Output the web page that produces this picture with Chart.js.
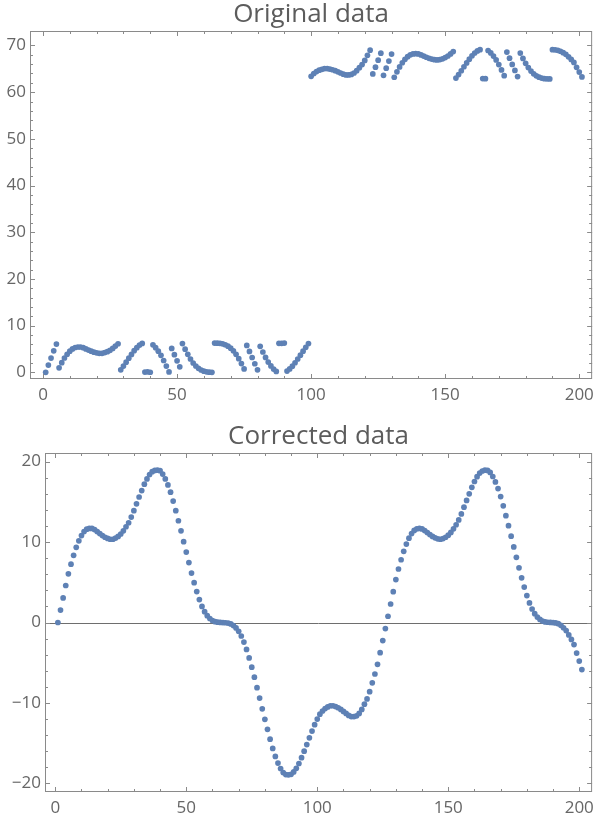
<!DOCTYPE html>
<html>
<head>
<meta charset="utf-8">
<script src="https://cdn.jsdelivr.net/npm/chart.js@4.4.1/dist/chart.umd.min.js"></script>
<style>
  html, body { margin: 0; padding: 0; background: #fff; }
  canvas { display: block; }
</style>
</head>
<body>
<canvas id="originalChart" width="600" height="413"></canvas>
<canvas id="correctedChart" width="600" height="413"></canvas>
<script>
// wrapped phase as it came in (second half sits 20*pi higher)
const originalValues = [
  0.00, 1.55, 3.05, 4.60, 6.05, 0.97, 2.07, 3.07, 3.87, 4.52,
  5.02, 5.32, 5.42, 5.42, 5.27, 5.02, 4.77, 4.52, 4.32, 4.17,
  4.07, 4.07, 4.22, 4.42, 4.72, 5.12, 5.62, 6.12, 0.53, 1.33,
  2.18, 3.03, 3.83, 4.63, 5.28, 5.83, 6.18, 0.05, 0.10, 0.02,
  5.88, 5.28, 4.53, 3.63, 2.53, 1.33, 0.08, 5.12, 3.77, 2.47,
  1.17, 6.15, 4.95, 3.85, 2.85, 2.00, 1.35, 0.85, 0.50, 0.25,
  0.10, 0.04, 0.01, 6.27, 6.25, 6.21, 6.10, 5.90, 5.60, 5.18,
  4.60, 3.85, 2.93, 1.88, 0.73, 5.77, 4.47, 3.17, 1.84, 0.54,
  5.57, 4.35, 3.20, 2.20, 1.37, 0.70, 0.19, 6.22, 6.20, 6.26,
  0.27, 0.72, 1.32, 2.05, 2.85, 3.67, 4.52, 5.35, 6.15, 63.40,
  64.00, 64.40, 64.70, 64.90, 65.05, 65.05, 64.95, 64.80, 64.60, 64.35,
  64.10, 63.85, 63.70, 63.70, 63.80, 64.10, 64.60, 65.25, 65.90, 66.80,
  67.90, 69.00, 63.91, 65.36, 66.86, 68.36, 63.61, 65.13, 66.66, 68.16,
  63.20, 64.35, 65.40, 66.30, 67.03, 67.60, 68.00, 68.20, 68.25, 68.18,
  67.98, 67.73, 67.48, 67.25, 67.08, 66.95, 66.90, 66.98, 67.15, 67.40,
  67.75, 68.20, 68.70, 63.01, 63.76, 64.59, 65.44, 66.26, 67.06, 67.79,
  68.39, 68.84, 69.09, 62.91, 62.89, 68.92, 68.41, 67.74, 66.91, 65.91,
  64.76, 63.54, 68.58, 67.28, 65.95, 64.65, 63.35, 68.38, 67.23, 66.18,
  65.26, 64.51, 63.93, 63.51, 63.21, 63.01, 62.90, 62.86, 62.84, 69.10,
  69.06, 68.96, 68.76, 68.46, 68.11, 67.56, 67.01, 66.36, 65.31, 64.31,
  63.26
];

// unwrapped curve
const correctedValues = [
  0.00, 1.55, 3.05, 4.60, 6.05, 7.25, 8.35, 9.35, 10.15, 10.80,
  11.30, 11.60, 11.70, 11.70, 11.55, 11.30, 11.05, 10.80, 10.60, 10.45,
  10.35, 10.35, 10.50, 10.70, 11.00, 11.40, 11.90, 12.40, 13.10, 13.90,
  14.75, 15.60, 16.40, 17.20, 17.85, 18.40, 18.75, 18.90, 18.95, 18.87,
  18.45, 17.85, 17.10, 16.20, 15.10, 13.90, 12.65, 11.40, 10.05, 8.75,
  7.45, 6.15, 4.95, 3.85, 2.85, 2.00, 1.35, 0.85, 0.50, 0.25,
  0.10, 0.04, 0.01, -0.01, -0.03, -0.07, -0.18, -0.38, -0.68, -1.10,
  -1.68, -2.43, -3.35, -4.40, -5.55, -6.80, -8.10, -9.40, -10.73, -12.03,
  -13.28, -14.50, -15.65, -16.65, -17.48, -18.15, -18.66, -18.91, -18.93, -18.87,
  -18.58, -18.13, -17.53, -16.80, -16.00, -15.18, -14.33, -13.50, -12.70, -12.00,
  -11.40, -11.00, -10.70, -10.50, -10.35, -10.35, -10.45, -10.60, -10.80, -11.05,
  -11.30, -11.55, -11.70, -11.70, -11.60, -11.30, -10.80, -10.15, -9.50, -8.60,
  -7.50, -6.40, -5.20, -3.75, -2.25, -0.75, 0.78, 2.30, 3.83, 5.33,
  6.65, 7.80, 8.85, 9.75, 10.48, 11.05, 11.45, 11.65, 11.70, 11.63,
  11.43, 11.18, 10.93, 10.70, 10.53, 10.40, 10.35, 10.43, 10.60, 10.85,
  11.20, 11.65, 12.15, 12.75, 13.50, 14.33, 15.18, 16.00, 16.80, 17.53,
  18.13, 18.58, 18.83, 18.93, 18.91, 18.66, 18.15, 17.48, 16.65, 15.65,
  14.50, 13.28, 12.03, 10.73, 9.40, 8.10, 6.80, 5.55, 4.40, 3.35,
  2.43, 1.68, 1.10, 0.68, 0.38, 0.18, 0.07, 0.03, 0.01, -0.01,
  -0.05, -0.15, -0.35, -0.65, -1.00, -1.55, -2.10, -2.75, -3.80, -4.80,
  -5.85
];

const sampleIndex = correctedValues.map((_, i) => i + 1);

const xTicks = [0, 50, 100, 150, 200];
const originalYTicks = [0, 10, 20, 30, 40, 50, 60, 70];
const correctedYTicks = [-20, -10, 0, 10, 20];

const pointColor = '#5e81b5';
const frameColor = '#8a8a8a';
const labelColor = '#666666';
const fontFamily = '"Open Sans", "DejaVu Sans", sans-serif';

function minorBetween(lo, hi, step) {
  const out = [];
  for (let v = lo; v <= hi + 1e-9; v += step) out.push(Math.round(v * 100) / 100);
  return out;
}

// Mathematica style frame: box on all sides, ticks pointing in, title above
const frameTicks = {
  id: 'frameTicks',
  beforeDatasetsDraw(chart, args, o) {
    if (!o.zeroLine) return;
    const { ctx, chartArea: a, scales: { y } } = chart;
    const py = Math.round(y.getPixelForValue(0)) + 0.5;
    ctx.save();
    ctx.strokeStyle = '#6e6e6e';
    ctx.lineWidth = 1;
    ctx.beginPath();
    ctx.moveTo(a.left, py);
    ctx.lineTo(a.right, py);
    ctx.stroke();
    ctx.restore();
  },
  afterDraw(chart, args, o) {
    const { ctx, chartArea: a, scales: { x, y } } = chart;
    ctx.save();
    ctx.strokeStyle = frameColor;
    ctx.lineWidth = 1;
    ctx.strokeRect(a.left + 0.5, a.top + 0.5, a.width - 1, a.height - 1);

    ctx.beginPath();
    const xt = (vals, len) => vals.forEach(v => {
      const px = Math.round(x.getPixelForValue(v)) + 0.5;
      ctx.moveTo(px, a.bottom); ctx.lineTo(px, a.bottom - len);
      ctx.moveTo(px, a.top); ctx.lineTo(px, a.top + len);
    });
    const yt = (vals, len) => vals.forEach(v => {
      const py = Math.round(y.getPixelForValue(v)) + 0.5;
      ctx.moveTo(a.left, py); ctx.lineTo(a.left + len, py);
      ctx.moveTo(a.right, py); ctx.lineTo(a.right - len, py);
    });
    xt(xTicks, 5);
    xt(minorBetween(0, 200, 10).filter(v => v % 50 !== 0), 3);
    yt(o.yMajor, 5);
    yt(minorBetween(o.yMajor[0], o.yMajor[o.yMajor.length - 1], 2).filter(v => v % 10 !== 0), 3);
    ctx.stroke();

    ctx.fillStyle = '#5c5c5c';
    ctx.font = '26px ' + fontFamily;
    ctx.textAlign = 'center';
    ctx.textBaseline = 'middle';
    ctx.fillText(o.title, (a.left + a.right) / 2, a.top - 16);
    ctx.restore();
  }
};

function tickText(v) {
  return v < 0 ? '\u2212' + Math.abs(v) : String(v);
}

function makeChart(canvasId, values, cfg) {
  const points = values.map((v, i) => ({ x: sampleIndex[i], y: v }));
  return new Chart(document.getElementById(canvasId), {
    type: 'scatter',
    data: {
      datasets: [{
        data: points,
        backgroundColor: pointColor,
        pointRadius: 2.85,
        pointHoverRadius: 2.85,
        pointBorderWidth: 0
      }]
    },
    options: {
      responsive: false,
      animation: false,
      events: [],
      layout: { padding: { top: cfg.top, right: cfg.right, left: 0, bottom: 0 } },
      plugins: {
        legend: { display: false },
        tooltip: { enabled: false },
        frameTicks: { title: cfg.title, yMajor: cfg.yTicks, zeroLine: cfg.zeroLine }
      },
      scales: {
        x: {
          type: 'linear',
          min: cfg.xMin,
          max: cfg.xMax,
          grid: { display: false, drawTicks: false },
          border: { display: false },
          afterBuildTicks: s => { s.ticks = xTicks.map(v => ({ value: v })); },
          afterFit: s => { s.height = cfg.xHeight; },
          ticks: {
            padding: 6, autoSkip: false, maxRotation: 0,
            color: labelColor, font: { family: fontFamily, size: 17 },
            callback: tickText
          }
        },
        y: {
          type: 'linear',
          min: cfg.yMin,
          max: cfg.yMax,
          grid: { display: false, drawTicks: false },
          border: { display: false },
          afterBuildTicks: s => { s.ticks = cfg.yTicks.map(v => ({ value: v })); },
          afterFit: s => { s.width = cfg.yWidth; },
          ticks: {
            padding: 4, autoSkip: false,
            color: labelColor, font: { family: fontFamily, size: 17 },
            callback: tickText
          }
        }
      }
    },
    plugins: [frameTicks]
  });
}

makeChart('originalChart', originalValues, {
  title: 'Original data',
  top: 31, right: 7, yWidth: 30, xHeight: 34,
  xMin: -4.85, xMax: 204.8, yMin: -1.43, yMax: 73.1,
  yTicks: originalYTicks, zeroLine: false
});

makeChart('correctedChart', correctedValues, {
  title: 'Corrected data',
  top: 40, right: 7, yWidth: 45, xHeight: 34,
  xMin: -3.92, xMax: 204.9, yMin: -21.07, yMax: 21.07,
  yTicks: correctedYTicks, zeroLine: true
});
</script>
</body>
</html>
